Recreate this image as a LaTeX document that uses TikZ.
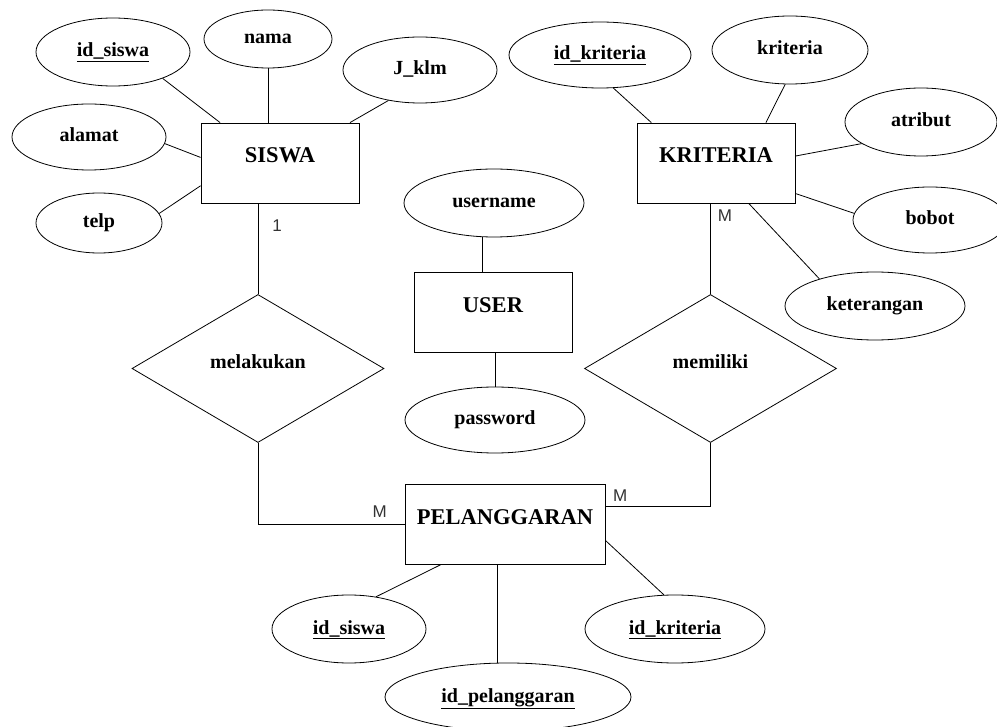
\documentclass[tikz,border=0pt]{standalone}
\usepackage{fontspec}
\setmainfont{Liberation Serif}
\newfontfamily\cardfont{Liberation Sans}
\usetikzlibrary{positioning, shapes.geometric}

\begin{document}
\begin{tikzpicture}[x=1pt, y=-1pt]
        % Styles
        \tikzstyle{entity} = [draw, thick, rectangle, minimum width=158pt, minimum height=80pt, inner sep=0pt, text height=12pt, text depth=12pt, font=\fontsize{22.5}{25}\selectfont\bfseries]
        \tikzstyle{attr} = [draw, thick, ellipse, inner sep=0pt, text height=14pt, text depth=4pt, font=\fontsize{20}{23}\selectfont\bfseries]
        \tikzstyle{relation} = [draw, thick, diamond, minimum width=252pt, minimum height=148pt, inner sep=0pt, text height=12pt, text depth=12pt, font=\fontsize{20}{23}\selectfont\bfseries]
        \tikzstyle{link} = [draw, thick, black]
        \tikzstyle{card} = [font=\cardfont\fontsize{17}{19}\selectfont, text=black!80, inner sep=1pt]

        \useasboundingbox (0,0) rectangle (997,727);

        % Entities
        \node[entity] (siswa) at (280,163) {SISWA};
        \node[entity] (kriteria) at (716,163) {KRITERIA};
        \node[entity] (user) at (493,312.5) {USER};
        \node[entity, minimum width=200pt] (pelanggaran) at (505,524.5) {PELANGGARAN};

        % Relations
        \node[relation] (melakukan) at (258,368.5) {melakukan};
        \node[relation] (memiliki) at (710.5,368.5) {memiliki};

        % Attributes of SISWA
        \node[attr, minimum width=154pt, minimum height=68pt] (idsiswa) at (113,52) {\underline{id\_siswa}};
        \node[attr, minimum width=128pt, minimum height=58pt] (nama) at (268,39) {nama};
        \node[attr, minimum width=154pt, minimum height=66pt] (jklm) at (420,70) {J\_klm};
        \node[attr, minimum width=154pt, minimum height=66pt] (alamat) at (89,137) {alamat};
        \node[attr, minimum width=126pt, minimum height=60pt] (telp) at (99,223) {telp};

        % Attributes of KRITERIA
        \node[attr, minimum width=182pt, minimum height=66pt] (idkriteria) at (600,55) {\underline{id\_kriteria}};
        \node[attr, minimum width=156pt, minimum height=68pt] (kriteriaattr) at (790,50) {kriteria};
        \node[attr, minimum width=152pt, minimum height=68pt] (atribut) at (921,122) {atribut};
        \node[attr, minimum width=154pt, minimum height=66pt] (bobot) at (930,220) {bobot};
        \node[attr, minimum width=180pt, minimum height=68pt] (keterangan) at (875,306) {keterangan};

        % Attributes of USER
        \node[attr, minimum width=180pt, minimum height=68pt] (username) at (494,203) {username};
        \node[attr, minimum width=180pt, minimum height=66pt] (password) at (495,420) {password};

        % Attributes of PELANGGARAN
        \node[attr, minimum width=154pt, minimum height=68pt] (idsiswab) at (349,629) {\underline{id\_siswa}};
        \node[attr, minimum width=246pt, minimum height=68pt] (idpelanggaran) at (508,697) {\underline{id\_pelanggaran}};
        \node[attr, minimum width=180pt, minimum height=68pt] (idkriteriab) at (675,629) {\underline{id\_kriteria}};

        % Attribute links
        \draw[link] (idsiswa.-28) -- (siswa.146);
        \draw[link] (nama.south) -- (nama.south |- siswa.north);
        \draw[link] (jklm.-136) -- (siswa.30);
        \draw[link] (alamat.-5) -- (siswa.176);
        \draw[link] (telp.9) -- (siswa.196);
        \draw[link] (idkriteria.-68) -- (kriteria.148);
        \draw[link] (kriteriaattr.-98) -- (kriteria.39);
        \draw[link] (atribut.200) -- (kriteria.5);
        \draw[link] (bobot.175) -- (kriteria.-21);
        \draw[link] (keterangan.154) -- (kriteria.-51);
        \draw[link] (user.105) -- (user.105 |- username.south);
        \draw[link] (password.north) -- (password.north |- user.south);
        \draw[link] (idsiswab.50) -- (pelanggaran.-148);
        \draw[link] (pelanggaran.-101) -- (pelanggaran.-101 |- idpelanggaran.north);
        \draw[link] (idkriteriab.108) -- (pelanggaran.-9);

        % Relationship links
        \draw[link] (melakukan.north) -- (melakukan.north |- siswa.south) node[card, pos=0.76, right=13pt] {1};
        \draw[link] (melakukan.south) |- (pelanggaran.west) node[card, pos=0.915, above=6pt] {M};
        \draw[link] (memiliki.north) -- (memiliki.north |- kriteria.south) node[card, pos=0.87, right=6pt] {M};
        \draw[link] (memiliki.south) |- (pelanggaran.10) node[card, pos=0.93, above=4pt] {M};

    \end{tikzpicture}
\end{document}
